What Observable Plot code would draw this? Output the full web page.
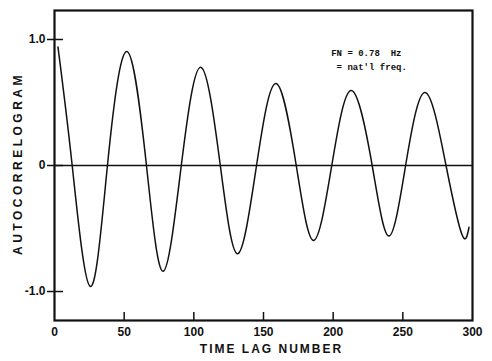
<!DOCTYPE html>
<html>
<head>
<meta charset="utf-8">
<script src="https://cdn.jsdelivr.net/npm/d3@7"></script>
<script src="https://cdn.jsdelivr.net/npm/@observablehq/plot@0.6"></script>
<style>
  html, body { margin: 0; padding: 0; background: #fff; }
</style>
</head>
<body>
<div id="chart"></div>
<script>
const lags = [2.5, 12.7, 25.7, 38, 52, 66, 78, 91, 105, 119, 131.5, 145, 159, 173.5, 186, 199, 213, 228, 240, 252, 266, 281, 292.5, 297.5];
const values = [0.94, 0, -0.96, 0, 0.905, 0, -0.84, 0, 0.78, 0, -0.70, 0, 0.65, 0, -0.595, 0, 0.595, 0, -0.56, 0, 0.58, 0, -0.55, -0.49];
const xTicks = [0, 50, 100, 150, 200, 250, 300];
const xInnerTicks = [50, 100, 150, 200, 250];
const yTicks = [-1, 0, 1];
const yTickLabels = ["-1.0", "0", "1.0"];
const annotation = ["FN = 0.78  Hz", " = nat'l freq."];
const xLabel = "TIME LAG NUMBER";
const yLabel = "AUTOCORRELOGRAM";

const data = lags.map((l, i) => ({lag: l, r: values[i]}));

const chart = Plot.plot({
  width: 492,
  height: 361,
  marginLeft: 54,
  marginRight: 20,
  marginTop: 10,
  marginBottom: 41,
  x: {domain: [0, 300]},
  y: {domain: [-1.23, 1.23]},
  style: {fontFamily: "'Liberation Sans', Arial, sans-serif", fontWeight: "bold", color: "#111", background: "#fff"},
  marks: [
    Plot.axisX(xInnerTicks, {tickSize: -8, tickFormat: () => "", strokeWidth: 1.5, label: null}),
    Plot.axisX(xTicks, {tickSize: 0, tickPadding: 7, tickFormat: d => String(d), fontSize: 12, label: null}),
    Plot.axisY(yTicks, {tickSize: 7, tickPadding: 2, tickFormat: d => yTickLabels[yTicks.indexOf(d)], fontSize: 12, strokeWidth: 1.5, label: null}),
    Plot.axisY(yTicks, {tickSize: -9, tickFormat: () => "", strokeWidth: 1.5, label: null}),
    Plot.ruleY([0], {stroke: "#111", strokeWidth: 1.6}),
    Plot.line(data, {x: "lag", y: "r", curve: "natural", stroke: "#111", strokeWidth: 1.5}),
    Plot.frame({stroke: "#111", strokeWidth: 2.2}),
    Plot.text([annotation[0]], {x: 198.6, y: 0.89, text: d => d, textAnchor: "start", fontSize: 9, fontFamily: "'Liberation Mono', 'DejaVu Sans Mono', monospace", fill: "#111"}),
    Plot.text([annotation[1]], {x: 198.6, y: 0.78, text: d => d, textAnchor: "start", fontSize: 9, fontFamily: "'Liberation Mono', 'DejaVu Sans Mono', monospace", fill: "#111"}),
    Plot.text([xLabel], {frameAnchor: "bottom", dy: 29, dx: 8, text: d => d, textAnchor: "middle", fontSize: 12, fill: "#111", lineAnchor: "middle"}),
    Plot.text([yLabel], {frameAnchor: "left", dx: -36, dy: -2, rotate: -90, text: d => d, textAnchor: "middle", fontSize: 12, fill: "#111", lineAnchor: "middle"})
  ]
});
d3.select(chart).selectAll("text").filter(function() { return this.textContent === xLabel; }).style("letter-spacing", "2px");
d3.select(chart).selectAll("text").filter(function() { return this.textContent === yLabel; }).style("letter-spacing", "3.5px");
document.getElementById("chart").appendChild(chart);
</script>
</body>
</html>
